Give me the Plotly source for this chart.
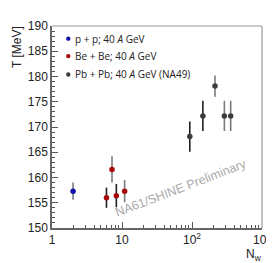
import plotly.graph_objects as go

# data
pp_n = [2.0]
pp_t = [157.3]
pp_e = [1.7]

be_n = [6.0, 7.2, 8.3, 10.9]
be_t = [156.0, 161.6, 156.4, 157.3]
be_e = [2.0, 2.6, 2.3, 2.2]
be_dark = [True, False, True, False]

pb_n = [93, 143, 213, 290, 357]
pb_t = [168.1, 172.2, 178.1, 172.2, 172.2]
pb_e = [3.0, 3.0, 2.1, 3.0, 3.0]
pb_dark = [True, True, False, False, False]

pp_dark = [False]

series = [
    ("p + p; 40 <i>A</i> GeV", pp_n, pp_t, pp_e, pp_dark, "#1010a8"),
    ("Be + Be; 40 <i>A</i> GeV", be_n, be_t, be_e, be_dark, "#a80808"),
    ("Pb + Pb; 40 <i>A</i> GeV (NA49)", pb_n, pb_t, pb_e, pb_dark, "#3c3c3c"),
]

fig = go.Figure()
for name, xs, ys, es, dk, col in series:
    for flag, barcol in ((True, "#1e1e1e"), (False, "#7a7a7a")):
        idx = [i for i in range(len(xs)) if dk[i] == flag]
        if not idx:
            continue
        fig.add_trace(go.Scatter(
            x=[xs[i] for i in idx], y=[ys[i] for i in idx],
            mode="markers", name=name, legendgroup=name,
            showlegend=False,
            marker=dict(color=col, size=5.5),
            error_y=dict(type="data", array=[es[i] for i in idx],
                         color=barcol, thickness=1.6, width=0),
        ))

fig.update_layout(
    width=274, height=263,
    margin=dict(l=44, r=11, t=12, b=43),
    paper_bgcolor="white", plot_bgcolor="white",
    showlegend=False,
    font=dict(family="Liberation Sans", size=12, color="#222"),
)

fig.update_xaxes(
    type="log", range=[0, 3],
    tickvals=[1, 10, 100, 1000],
    ticktext=["1", "10", "10<sup>2</sup>", "10<sup>3</sup>"],
    ticks="inside", ticklen=6, tickwidth=1, tickcolor="#555",
    showline=True, linecolor="#666", linewidth=1.5,
    showgrid=False, zeroline=False,
    minor=dict(tickvals=[2, 3, 4, 5, 6, 7, 8, 9, 20, 30, 40, 50, 60, 70, 80, 90,
                         200, 300, 400, 500, 600, 700, 800, 900],
               ticks="inside", ticklen=3, tickcolor="#555", showgrid=False),
    tickfont=dict(size=12, color="#222"),
)
fig.update_yaxes(
    range=[150, 190], dtick=5, tick0=150,
    ticks="inside", ticklen=6, tickwidth=1, tickcolor="#555",
    showline=True, linecolor="#666", linewidth=1.5,
    showgrid=False, zeroline=False,
    minor=dict(dtick=1, ticks="inside", ticklen=3, tickcolor="#555", showgrid=False),
    tickfont=dict(size=12, color="#222"),
)

# frame top/right
fig.add_shape(type="line", xref="paper", yref="paper", x0=0, x1=1, y0=1, y1=1,
              line=dict(color="#999", width=1.2))
fig.add_shape(type="line", xref="paper", yref="paper", x0=1, x1=1, y0=0, y1=1,
              line=dict(color="#999", width=1.2))

# legend (manual)
leg_y = [0.9375, 0.851, 0.760]
for (name, xs, ys, es, dk, col), ly in zip(series, leg_y):
    fig.add_shape(type="circle", xref="paper", yref="paper",
                  xsizemode="pixel", ysizemode="pixel",
                  xanchor=0.0776, yanchor=ly, x0=-2.2, x1=2.2, y0=-2.2, y1=2.2,
                  fillcolor=col, line=dict(width=0))
    fig.add_annotation(text=name, xref="paper", yref="paper", x=0.098, y=ly,
                       xanchor="left", yanchor="middle", showarrow=False,
                       font=dict(family="Open Sans", size=10, color="#222"))

fig.add_annotation(text="T [MeV]", xref="paper", yref="paper", x=0, y=1,
                   xanchor="center", yanchor="top", textangle=-90,
                   xshift=-35, yshift=2, showarrow=False,
                   font=dict(family="Liberation Sans", size=12, color="#222"))
fig.add_annotation(text="N<sub>w</sub>", xref="paper", yref="paper", x=1, y=0,
                   xanchor="right", yanchor="top", xshift=2, yshift=-17,
                   showarrow=False,
                   font=dict(family="Liberation Sans", size=12, color="#222"))
fig.add_annotation(text="NA61/SHINE Preliminary", xref="paper", yref="paper",
                   x=0.615, y=0.2, xanchor="center", yanchor="middle",
                   textangle=-21, showarrow=False,
                   font=dict(family="Liberation Sans", size=12.5, color="#aaaaaa"))

fig.write_html("out.html")
